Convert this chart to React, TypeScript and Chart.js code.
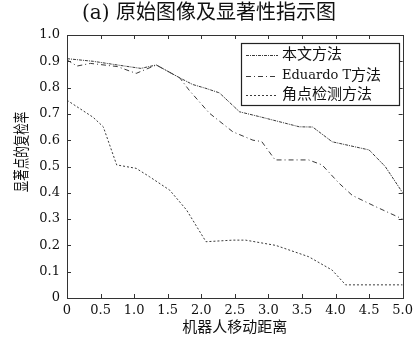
import React, { useEffect, useRef } from "react";
import { Chart, registerables } from "chart.js";

Chart.register(...registerables);

const FONT = "'DejaVu Serif', 'Noto Sans CJK SC', serif";

const titleText = "(a) 原始图像及显著性指示图";
const xTitle = "机器人移动距离";
const yTitle = "显著点的复检率";
const seriesNames = ["本文方法", "Eduardo T方法", "角点检测方法"];

const xTickValues = [0, 0.5, 1.0, 1.5, 2.0, 2.5, 3.0, 3.5, 4.0, 4.5, 5.0];
const yTickValues = [0, 0.1, 0.2, 0.3, 0.4, 0.5, 0.6, 0.7, 0.8, 0.9, 1.0];

const xBenwen = [0, 0.39, 0.75, 1.1, 1.33, 1.68, 1.87, 2.07, 2.27, 2.57, 2.86, 3.26, 3.46, 3.66, 3.95, 4.5, 4.74, 5.0];
const yBenwen = [0.91, 0.9, 0.886, 0.873, 0.886, 0.837, 0.812, 0.797, 0.78, 0.708, 0.69, 0.664, 0.651, 0.65, 0.594, 0.563, 0.5, 0.4];

const xEduardo = [0, 0.15, 0.35, 0.75, 1.03, 1.33, 1.68, 1.82, 2.12, 2.47, 2.77, 2.9, 3.1, 3.6, 3.8, 4.05, 4.25, 4.6, 5.0];
const yEduardo = [0.905, 0.882, 0.892, 0.88, 0.854, 0.886, 0.837, 0.79, 0.703, 0.632, 0.6, 0.595, 0.525, 0.525, 0.506, 0.437, 0.39, 0.347, 0.3];

const xJiaodian = [0, 0.39, 0.54, 0.74, 1.03, 1.23, 1.53, 1.78, 2.07, 2.47, 2.66, 3.11, 3.6, 3.95, 4.15, 5.0];
const yJiaodian = [0.752, 0.687, 0.651, 0.506, 0.493, 0.461, 0.41, 0.335, 0.214, 0.22, 0.22, 0.2, 0.157, 0.106, 0.05, 0.05];

const lineColors = ["#3a3a3a", "#3a3a3a", "#3a3a3a"];
const lineDashes = [[3, 1, 1, 1], [5, 3, 1, 3], [2, 2]];

const toPoints = (xs: number[], ys: number[]) => xs.map((x, i) => ({ x, y: ys[i] }));

const framePlugin = {
  id: "frameAndLegend",
  afterDraw(chart: any) {
    const { ctx, chartArea } = chart;
    const { left, right, top, bottom } = chartArea;
    const xs = chart.scales.x;
    const ys = chart.scales.y;
    ctx.save();
    ctx.strokeStyle = "#333";
    ctx.lineWidth = 1;
    ctx.setLineDash([]);
    ctx.strokeRect(Math.round(left) + 0.5, Math.round(top) + 0.5, Math.round(right - left), Math.round(bottom - top));
    ctx.beginPath();
    xTickValues.forEach((v) => {
      const px = Math.round(xs.getPixelForValue(v)) + 0.5;
      ctx.moveTo(px, bottom);
      ctx.lineTo(px, bottom - 4);
      ctx.moveTo(px, top);
      ctx.lineTo(px, top + 4);
    });
    yTickValues.forEach((v) => {
      const py = Math.round(ys.getPixelForValue(v)) + 0.5;
      ctx.moveTo(left, py);
      ctx.lineTo(left + 4, py);
      ctx.moveTo(right, py);
      ctx.lineTo(right - 4, py);
    });
    ctx.stroke();

    ctx.save();
    ctx.translate(23, 152);
    ctx.rotate(-Math.PI / 2);
    ctx.scale(0.72, 1);
    ctx.fillStyle = "#111";
    ctx.font = `16px ${FONT}`;
    ctx.textAlign = "center";
    ctx.textBaseline = "middle";
    ctx.fillText(yTitle, 0, 0);
    ctx.restore();

    const bx = 241, by = 43, bw = 158, bh = 62;
    ctx.fillStyle = "#fff";
    ctx.fillRect(bx, by, bw, bh);
    ctx.strokeStyle = "#222";
    ctx.lineWidth = 1.2;
    ctx.strokeRect(bx + 0.5, by + 0.5, bw, bh);
    const rows = [55, 76, 95];
    ctx.textAlign = "left";
    ctx.textBaseline = "middle";
    seriesNames.forEach((name, i) => {
      ctx.beginPath();
      ctx.strokeStyle = lineColors[i];
      ctx.lineWidth = 1;
      ctx.setLineDash(lineDashes[i]);
      ctx.moveTo(246, rows[i] + 0.5);
      ctx.lineTo(278, rows[i] + 0.5);
      ctx.stroke();
      ctx.setLineDash([]);
      ctx.fillStyle = "#111";
      ctx.font = `${i === 1 ? 13 : 15}px ${FONT}`;
      if (i === 1) {
        const latin = "Eduardo T";
        ctx.fillText(latin, 282, rows[i]);
        const w = ctx.measureText(latin).width;
        ctx.font = `15px ${FONT}`;
        ctx.fillText("方法", 282 + w, rows[i]);
      } else {
        ctx.fillText(name, 282, rows[i]);
      }
    });
    ctx.restore();
  },
};

const fmt = (v: number) => (Math.abs(v) < 1e-9 ? "0" : Number(v).toFixed(1));

export default function App() {
  const canvasRef = useRef<HTMLCanvasElement | null>(null);

  useEffect(() => {
    document.body.style.margin = "0";
    const canvas = canvasRef.current;
    if (!canvas) return;
    const datasets = [
      toPoints(xBenwen, yBenwen),
      toPoints(xEduardo, yEduardo),
      toPoints(xJiaodian, yJiaodian),
    ].map((data, i) => ({
      label: seriesNames[i],
      data,
      borderColor: lineColors[i],
      borderWidth: 1,
      borderDash: lineDashes[i],
      pointRadius: 0,
      fill: false,
      tension: 0,
      xAxisID: "x",
      yAxisID: "y",
    }));

    const chart = new Chart(canvas, {
      type: "line",
      data: { datasets },
      plugins: [framePlugin],
      options: {
        responsive: false,
        animation: false,
        devicePixelRatio: 1,
        layout: { padding: 0 },
        plugins: {
          legend: { display: false },
          tooltip: { enabled: false },
          title: {
            display: true,
            text: titleText,
            color: "#111",
            font: { family: FONT, size: 20, weight: "normal" },
            padding: { top: 2, bottom: 9 },
          },
        },
        scales: {
          x: {
            type: "linear",
            min: 0,
            max: 5,
            grid: { display: false, drawTicks: false },
            border: { display: false },
            afterBuildTicks: (s: any) => {
              s.ticks = xTickValues.map((v) => ({ value: v }));
            },
            afterFit: (s: any) => {
              s.height = 39;
            },
            ticks: {
              color: "#111",
              font: { family: FONT, size: 13 },
              padding: 5,
              maxRotation: 0,
              autoSkip: false,
              callback: (v: any) => fmt(Number(v)),
            },
            title: {
              display: true,
              text: xTitle,
              color: "#111",
              font: { family: FONT, size: 15 },
              padding: { top: 0, bottom: 0 },
            },
          },
          y: {
            type: "linear",
            min: 0,
            max: 1,
            grid: { display: false, drawTicks: false },
            border: { display: false },
            afterBuildTicks: (s: any) => {
              s.ticks = yTickValues.map((v) => ({ value: v }));
            },
            afterFit: (s: any) => {
              s.width = 67;
            },
            ticks: {
              color: "#111",
              font: { family: FONT, size: 13 },
              padding: 7,
              autoSkip: false,
              callback: (v: any) => fmt(Number(v)),
            },
          },
          yRight: {
            type: "linear",
            position: "right",
            min: 0,
            max: 1,
            grid: { display: false, drawTicks: false },
            border: { display: false },
            ticks: { display: false },
            afterFit: (s: any) => {
              s.width = 14;
            },
          },
        },
      } as any,
    });
    return () => chart.destroy();
  }, []);

  return (
    <div style={{ position: "absolute", left: 0, top: 0, width: 418, height: 337, background: "#fff" }}>
      <canvas ref={canvasRef} width={418} height={337} style={{ display: "block" }} />
    </div>
  );
}
